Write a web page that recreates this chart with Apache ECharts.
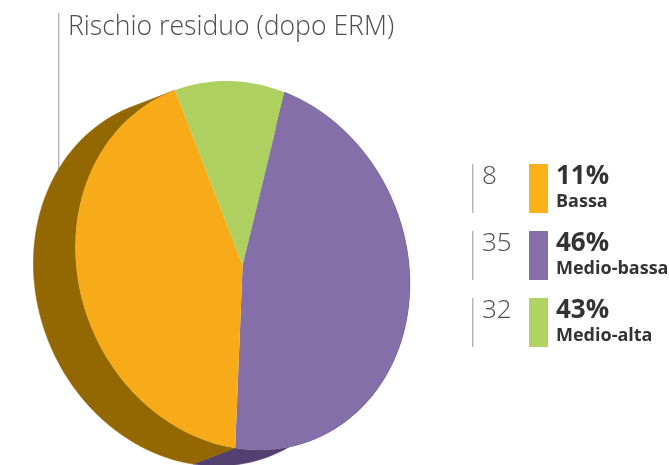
<!DOCTYPE html>
<html><head><meta charset="utf-8">
<style>html,body{margin:0;padding:0;background:#fff}#c{width:669px;height:465px}</style>
<script src="https://cdn.jsdelivr.net/npm/echarts@6/dist/echarts.min.js"></script>
</head><body><div id="c"></div>
<script>
const sliceNames = ['Bassa', 'Medio-bassa', 'Medio-alta'];
const sliceValues = [8, 35, 32];
const slicePercents = ['11%', '46%', '43%'];
const faceColors = ['#AED060', '#846FA9', '#F7AB18'];
const sideColors = [null, '#534070', '#946800'];
const swatchColors = ['#FDB119', '#846FA9', '#B0D362'];
const titleText = 'Rischio residuo (dopo ERM)';

const FONT = '"Open Sans", sans-serif';
const cx = 242.6, cy = 265.5, a = 166.4, b = 184.5, shear = 0.0894;
const startDeg = -18.2, depth = [-42, 16];
const total = sliceValues.reduce((s, v) => s + v, 0);

function arcPoints(from, to, dx, dy) {
  const pts = [];
  const n = Math.max(2, Math.ceil(Math.abs(to - from) / 1.5));
  for (let i = 0; i <= n; i++) {
    const t = (from + (to - from) * i / n) * Math.PI / 180;
    const yo = -b * Math.cos(t);
    pts.push([cx + a * Math.sin(t) + shear * yo + dx, cy + yo + dy]);
  }
  return pts;
}
function range(idx) {
  let sum = 0;
  for (let i = 0; i < idx; i++) sum += sliceValues[i];
  const from = startDeg + sum / total * 360;
  return [from, from + sliceValues[idx] / total * 360];
}
const seriesData = sliceValues.map((v, i) => ({ name: sliceNames[i], value: [v] }));

const graphics = [
  { type: 'rect', z: -1, shape: { x: 58, y: 13, width: 1.4, height: 160 }, style: { fill: '#B5B5B9' } },
  { type: 'text', x: 68, y: 27, style: { text: titleText, font: '300 26.6px ' + FONT, fill: '#4D4D4F', textVerticalAlign: 'middle' } }
];
const rowTop = [164, 231, 298];
sliceNames.forEach((name, i) => {
  const y = rowTop[i];
  graphics.push(
    { type: 'rect', shape: { x: 472, y: y, width: 1.4, height: 49 }, style: { fill: '#B5B5B9' } },
    { type: 'text', x: 482, y: y + 13, style: { text: String(sliceValues[i]), font: '300 26px ' + FONT, fill: '#4D4D4F', textVerticalAlign: 'middle' } },
    { type: 'rect', shape: { x: 529, y: y, width: 19, height: 49 }, style: { fill: swatchColors[i] } },
    { type: 'text', x: 556, y: y + 12.5, style: { text: slicePercents[i], font: '700 26px ' + FONT, fill: '#333333', textVerticalAlign: 'middle' } },
    { type: 'text', x: 556, y: y + 38, style: { text: name, font: '700 18px ' + FONT, fill: '#333333', textVerticalAlign: 'middle' } }
  );
});

const chart = echarts.init(document.getElementById('c'), null, { renderer: 'canvas' });
chart.setOption({
  animation: false,
  backgroundColor: '#fff',
  graphic: { elements: graphics },
  series: [
    {
      type: 'custom', coordinateSystem: 'none', silent: true, z: 1, data: seriesData,
      renderItem(params) {
        const i = params.dataIndex;
        if (!sideColors[i]) return null;
        const [f, t] = range(i);
        const pts = arcPoints(f, t, 0, 0).concat(arcPoints(f, t, depth[0], depth[1]).reverse());
        return { type: 'polygon', shape: { points: pts }, style: { fill: sideColors[i], stroke: sideColors[i], lineWidth: 0.5 } };
      }
    },
    {
      type: 'custom', coordinateSystem: 'none', silent: true, z: 2, data: seriesData,
      renderItem(params) {
        const [f, t] = range(params.dataIndex);
        const pts = [[cx, cy]].concat(arcPoints(f, t, 0, 0));
        return { type: 'polygon', shape: { points: pts }, style: { fill: faceColors[params.dataIndex] } };
      }
    }
  ]
});
</script></body></html>
